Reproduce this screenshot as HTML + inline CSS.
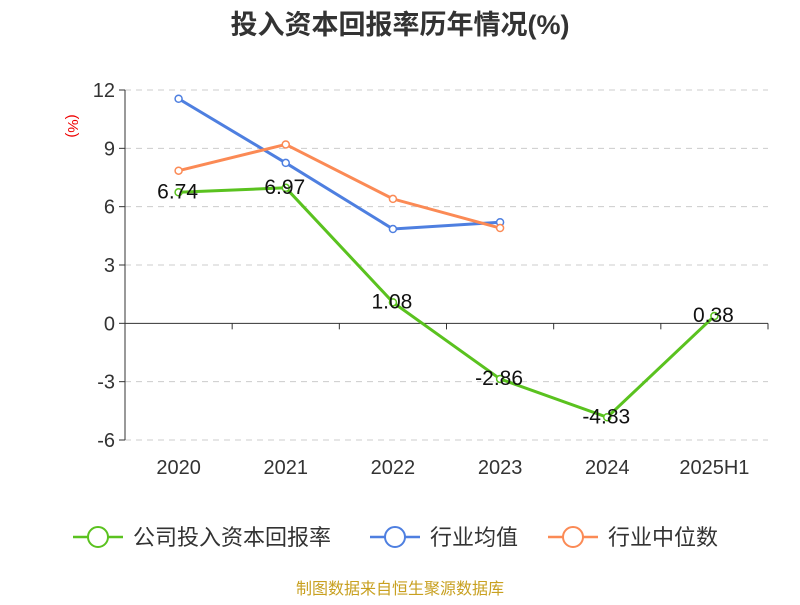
<!DOCTYPE html>
<html><head><meta charset="utf-8"><style>
body{margin:0;background:#fff;font-family:"Liberation Sans","Noto Sans CJK SC",sans-serif}
</style></head><body>
<svg id="c" width="800" height="600" font-family="Liberation Sans, Noto Sans CJK SC, sans-serif">
<text x="400" y="34" text-anchor="middle" font-size="27" font-weight="bold" fill="#333">投入资本回报率历年情况(%)</text>
<text x="68" y="126" font-size="15" fill="#e00" transform="rotate(90 68 126)" text-anchor="middle">(%)</text>
<g id="grid"></g><g id="axes"></g><g id="series"></g>
<g font-size="22" fill="#333">
<g><line x1="73" y1="537" x2="123" y2="537" stroke="#5ac21f" stroke-width="2.5"/><circle cx="98" cy="537" r="10" fill="#fff" stroke="#5ac21f" stroke-width="2"/><text x="133" y="545">公司投入资本回报率</text></g>
<g><line x1="370" y1="537" x2="420" y2="537" stroke="#4e7fe0" stroke-width="2.5"/><circle cx="395" cy="537" r="10" fill="#fff" stroke="#4e7fe0" stroke-width="2"/><text x="430" y="545">行业均值</text></g>
<g><line x1="548" y1="537" x2="598" y2="537" stroke="#fb8a55" stroke-width="2.5"/><circle cx="573" cy="537" r="10" fill="#fff" stroke="#fb8a55" stroke-width="2"/><text x="608" y="545">行业中位数</text></g>
</g>
<text x="400" y="594" text-anchor="middle" font-size="16" fill="#c8a020">制图数据来自恒生聚源数据库</text>
</svg>
<script>
const categories=["2020","2021","2022","2023","2024","2025H1"];
const companyVals=[6.74,6.97,1.08,-2.86,-4.83,0.38];
const avgVals=[11.55,8.25,4.85,5.2];
const medianVals=[7.85,9.2,6.4,4.9];
const yTicks=[12,9,6,3,0,-3,-6];
const NS="http://www.w3.org/2000/svg";
const L=125,R=768,T=90,B=440,ymax=12,ymin=-6;
const bw=(R-L)/categories.length;
const xs=i=>L+bw*(i+0.5);
const ys=v=>T+(ymax-v)/(ymax-ymin)*(B-T);
function mk(p,tag,a){const e=document.createElementNS(NS,tag);for(const k in a)e.setAttribute(k,a[k]);document.getElementById(p).appendChild(e);return e;}
yTicks.forEach(v=>{
 if(v!==0){const g=mk('grid','line',{x1:L,x2:R,y1:ys(v),y2:ys(v),stroke:'#ccc','stroke-dasharray':'6,5'});
 }
 const t=mk('axes','line',{x1:L-6,x2:L,y1:ys(v),y2:ys(v),stroke:'#333'});
 const tx=mk('axes','text',{x:L-10,y:ys(v)+7,'text-anchor':'end','font-size':20,fill:'#333'});tx.textContent=v;
 
});
mk('axes','line',{x1:L,x2:L,y1:T,y2:B,stroke:'#333'});
mk('axes','line',{x1:L,x2:R,y1:ys(0),y2:ys(0),stroke:'#333'});
for(let i=0;i<=categories.length;i++)mk('axes','line',{x1:L+bw*i,x2:L+bw*i,y1:ys(0),y2:ys(0)+6,stroke:'#333'});
categories.forEach((c,i)=>{const t=mk('axes','text',{x:xs(i),y:474,'text-anchor':'middle','font-size':20,fill:'#333'});t.textContent=c;
 });
function series(vals,color,name,labels){
 const pl=mk('series','polyline',{points:vals.map((v,i)=>xs(i)+','+ys(v)).join(' '),fill:'none',stroke:color,'stroke-width':3});
 
 vals.forEach((v,i)=>{const c=mk('series','circle',{cx:xs(i),cy:ys(v),r:3.5,fill:'#fff',stroke:color,'stroke-width':1.5});
  
  if(labels){const t=mk('series','text',{x:xs(i)-1,y:ys(v)+6,'text-anchor':'middle','font-size':21,fill:'#111'});t.textContent=v.toFixed(2);
  }
 });
}
series(avgVals,'#4e7fe0','industry-avg',false);
series(medianVals,'#fb8a55','industry-median',false);
series(companyVals,'#5ac21f','company',true);
</script>
</body></html>
